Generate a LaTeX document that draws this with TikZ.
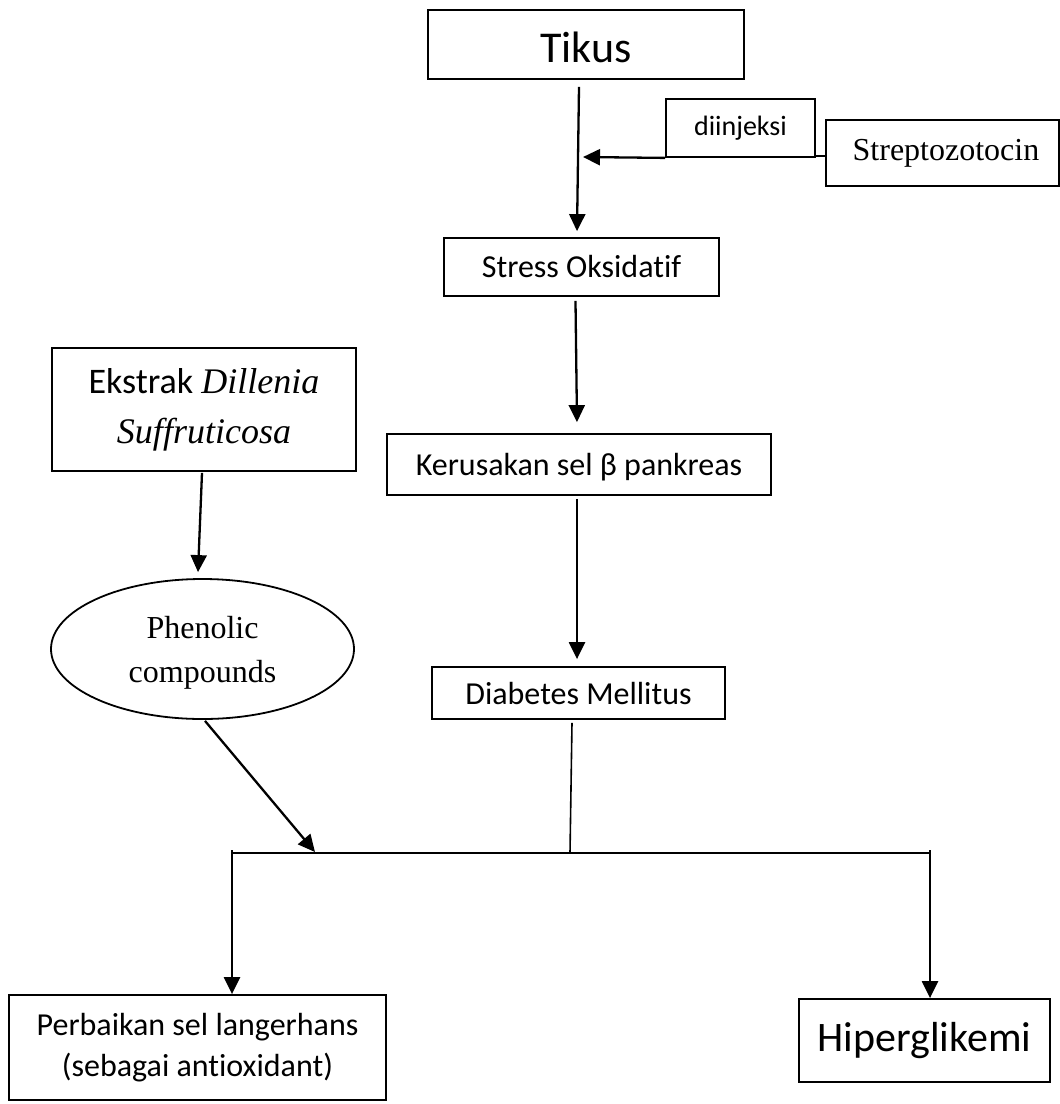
\documentclass[tikz,border=0pt]{standalone}
\usepackage{fontspec}
\setmainfont{Liberation Serif}
\newfontfamily\calfont[Ligatures=NoCommon]{Carlito}
\usetikzlibrary{arrows.meta,shapes.geometric,calc}
\newcommand{\lowr}[2]{\raisebox{-#1}[\height][\depth]{#2}}
\tikzset{
  box/.style={draw=black, line width=1.8pt, inner sep=0pt, align=center, font=\calfont\fontsize{32}{41}\selectfont},
  arr/.style={line width=2.3pt, -{Triangle[length=17pt,width=16pt]}},
  ln/.style={line width=2pt},
  thin ln/.style={line width=1.6pt}
}
\begin{document}
\begin{tikzpicture}[x=1pt,y=-1pt]
\useasboundingbox[fill=white] (0,0) rectangle (1060,1104);
% nodes
\node[box, minimum width=316pt, minimum height=69pt, font=\calfont\fontsize{44}{50}\selectfont] (tikus) at (586,44.5) {\lowr{3pt}{Tikus}};
\node[box, minimum width=149pt, minimum height=58pt, font=\calfont\fontsize{28}{34}\selectfont] (inj) at (740.5,128) {diinjeksi};
\node[box, minimum width=233pt, minimum height=66pt, font=\fontsize{32}{38}\selectfont] (strep) at (942.5,153) {\hspace*{7pt}Streptozotocin};
\node[box, minimum width=275pt, minimum height=58pt] (stress) at (581.5,267) {Stress Oksidatif};
\node[box, minimum width=384pt, minimum height=61pt] (kerus) at (579,464.5) {\lowr{3pt}{Kerusakan sel β pankreas}};
\node[box, minimum width=293pt, minimum height=52pt] (diab) at (578.5,693) {Diabetes Mellitus};
\node[box, minimum width=304pt, minimum height=123pt, font=\calfont\fontsize{36}{50}\selectfont] (ekstrak) at (204,409.5) {Ekstrak \textit{\rmfamily Dillenia}\\\textit{\rmfamily Suffruticosa}};
\node[box, ellipse, minimum width=303pt, minimum height=140pt, font=\fontsize{32}{44}\selectfont] (ell) at (202.5,649) {\lowr{4pt}{Phenolic}\\\lowr{4pt}{compounds}};
\node[box, minimum width=377pt, minimum height=105pt, font=\calfont\fontsize{32}{41}\selectfont] (perb) at (197.5,1047.5) {Perbaikan sel langerhans\\(sebagai antioxidant)};
\node[box, minimum width=251pt, minimum height=83pt, font=\calfont\fontsize{42}{48}\selectfont] (hiper) at (924.5,1040.5) {Hiperglikemi};
% junction coordinates
\coordinate (jl) at (232,853);
\coordinate (jr) at (930,853);
\coordinate (jm) at (570,853);
\coordinate (injtip) at (583,157);
\coordinate (injr) at ($(inj.south east)+(0,-2)$);
% connectors
\draw[arr] ($(tikus.south)+(-7,7)$) -- ($(stress.north)+(-4.5,-6)$);
\draw[arr] (inj.south west) -- (injtip);
\draw[ln] (injr) -- (injr -| strep.west);
\draw[arr] ($(stress.south)+(-6,4)$) -- ($(kerus.north)+(-2,-11)$);
\draw[arr] ($(kerus.south)+(-2,3)$) -- ($(diab.north)+(-1.5,-7)$);
\draw[thin ln] ($(diab.south)+(-6.5,3)$) -- (jm);
\draw[ln] (jl) -- (jr);
\draw[arr] ($(jl)+(0,-3)$) -- (jl |- perb.north);
\draw[arr] ($(jr)+(0,-3)$) -- (jr |- hiper.north);
\draw[arr] ($(ekstrak.south)+(-2,1)$) -- ($(ell.north)+(-4.5,-6)$);
\draw[arr] ($(ell.south)+(2.5,1)$) -- ($(jl)+(83,-1)$);
\end{tikzpicture}
\end{document}
